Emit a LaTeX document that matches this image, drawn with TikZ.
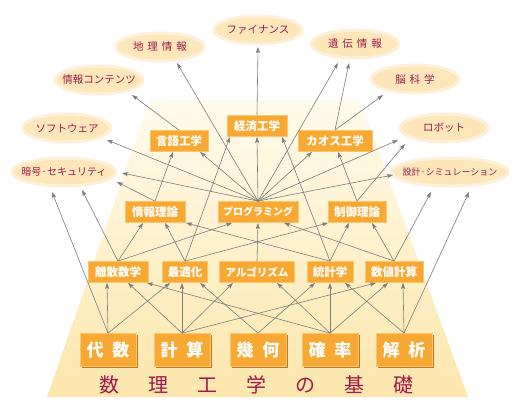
\documentclass[tikz,border=0pt]{standalone}
\usepackage{fontspec}
\setmainfont{Noto Sans CJK JP}
\usetikzlibrary{shapes.geometric,arrows.meta,backgrounds}
\definecolor{ellfill}{HTML}{FCE6BA}
\definecolor{ellhalo}{HTML}{FEF0D8}
\definecolor{elltext}{HTML}{9E1C4A}
\definecolor{boxfill}{HTML}{F8A933}
\definecolor{boxedge}{HTML}{FBC56B}
\definecolor{linecol}{HTML}{7C7C7C}
\definecolor{titlecol}{HTML}{A3174A}
\definecolor{trapTop}{HTML}{FFFBEC}
\definecolor{trapBot}{HTML}{FCE6AC}
\definecolor{bigshadow}{HTML}{B07A2C}
\tikzset{
 ell/.style={ellipse, fill=ellfill, draw=ellhalo, line width=3pt, inner xsep=-6pt, inner ysep=0pt,
   minimum width=88pt, minimum height=28pt, text=elltext, font=\fontsize{10.5}{12}\selectfont},
 sbox/.style={rectangle, fill=boxfill, draw=boxedge, line width=0.8pt, text=white,
   font=\fontsize{11.5}{13}\selectfont\bfseries, minimum height=21pt, inner xsep=3pt, inner ysep=0pt},
 bbox/.style={rectangle, fill=boxfill, draw=boxedge, line width=0.8pt, minimum width=56pt,
   minimum height=33pt, text=white, font=\fontsize{17}{19}\selectfont\bfseries,
   preaction={fill=bigshadow, transform canvas={shift={(1.8pt,-1.8pt)}}}},
 conn/.style={draw=linecol, line width=0.6pt, -{Stealth[length=6pt,width=4pt,inset=1.2pt]}},
 titletext/.style={text=titlecol, font=\fontsize{20}{22}\selectfont},
}
\begin{document}
\begin{tikzpicture}[x=1pt,y=-1pt]
\useasboundingbox (0,0) rectangle (516,408);
% ellipses
\node[ell] (e_cont) at (99,80) {情報コンテンツ};
\node[ell] (e_geo) at (160,47) {地\hspace{4pt}理\hspace{4pt}情\hspace{4pt}報};
\node[ell] (e_fin) at (258,30) {ファイナンス};
\node[ell] (e_gene) at (355,44) {遺\hspace{4pt}伝\hspace{4pt}情\hspace{4pt}報};
\node[ell] (e_brain) at (415,79) {脳\hspace{4pt}科\hspace{4pt}学};
\node[ell] (e_soft) at (67,128) {ソフトウェア};
\node[ell] (e_robot) at (444,128) {ロボット};
\node[ell, minimum width=104pt, font=\fontsize{10}{12}\selectfont] (e_crypt) at (64,172) {暗号·セキュリティ};
\node[ell, minimum width=108pt, font=\fontsize{9}{11}\selectfont] (e_design) at (450,172) {設計·シミュレーション};
% row 1
\node[sbox, minimum width=58pt] (b_lang) at (179,141) {言語工学};
\node[sbox, minimum width=60pt] (b_econ) at (257,126) {経済工学};
\node[sbox, minimum width=74pt] (b_chaos) at (335,141) {カオス工学};
% row 2
\node[sbox, minimum width=60pt] (b_info) at (155,212) {情報理論};
\node[sbox, minimum width=80pt, font=\fontsize{10}{12}\selectfont\bfseries] (b_prog) at (258,212) {プログラミング};
\node[sbox, minimum width=58pt] (b_ctrl) at (357,212) {制御理論};
% row 3
\node[sbox, minimum width=60pt] (b_disc) at (118,272) {離散数学};
\node[sbox, minimum width=45pt] (b_opt) at (185,272) {最適化};
\node[sbox, minimum width=75pt, font=\fontsize{10.5}{12}\selectfont\bfseries] (b_algo) at (257,272) {アルゴリズム};
\node[sbox, minimum width=46pt] (b_stat) at (330,272) {統計学};
\node[sbox, minimum width=58pt] (b_num) at (394,272) {数値計算};
% row 4
\node[bbox] (B_alg) at (108,350) {代\hspace{9pt}数};
\node[bbox] (B_comp) at (182,350) {計\hspace{9pt}算};
\node[bbox] (B_geom) at (258,350) {幾\hspace{9pt}何};
\node[bbox] (B_prob) at (330,350) {確\hspace{9pt}率};
\node[bbox] (B_anal) at (404,350) {解\hspace{9pt}析};
% title
\node[titletext] (title) at (256,385) {数\hspace{29pt}理\hspace{29pt}工\hspace{29pt}学\hspace{29pt}の\hspace{29pt}基\hspace{29pt}礎};
% background
\begin{scope}[on background layer]
\fill[white] (0,0) rectangle (516,408);
\shade[top color=trapTop, bottom color=trapBot] (150,100) -- (360,100) -- (468,397) -- (47,397) -- cycle;
\end{scope}
% row4 -> row3
\draw[conn] (B_alg.north) -- ([xshift=-12pt,yshift=-20pt]e_crypt.center);
\draw[conn] (B_alg.north) -- ([xshift=-11pt]b_disc.south);
\draw[conn] (B_alg.north) -- ([xshift=-15pt]b_opt.south);
\draw[conn] (B_comp.north) -- ([xshift=10pt]b_disc.south);
\draw[conn] (B_comp.north) -- ([xshift=-3pt]b_opt.south);
\draw[conn] (B_comp.north) -- ([xshift=-24pt]b_algo.south);
\draw[conn] (B_comp.north) -- ([xshift=-18pt]b_num.south);
\draw[conn] (B_geom.north) -- ([xshift=15pt]b_opt.south);
\draw[conn] (B_geom.north) -- ([xshift=-15pt]b_stat.south);
\draw[conn] (B_prob.north) -- ([xshift=29pt]b_disc.south);
\draw[conn] (B_prob.north) -- ([xshift=20pt]b_algo.south);
\draw[conn] (B_prob.north) -- (b_stat.south);
\draw[conn] (B_prob.north) -- ([xshift=-6pt]b_num.south);
\draw[conn] (B_anal.north) -- ([xshift=15pt]b_stat.south);
\draw[conn] (B_anal.north) -- ([xshift=9pt]b_num.south);
\draw[conn] (B_anal.north) -- ([xshift=19pt,yshift=-20pt]e_design.center);
% row3 -> up
\draw[conn] (b_disc.north) -- ([xshift=18pt,yshift=-18pt]e_crypt.center);
\draw[conn] (b_disc.north) -- ([xshift=-12pt]b_info.south);
\draw[conn] (b_disc.north) -- ([xshift=-26pt]b_prog.south);
\draw[conn] (b_opt.north) -- ([xshift=10pt]b_info.south);
\draw[conn] (b_opt.north) -- ([xshift=-27pt]b_econ.south);
\draw[conn] (b_opt.north) -- ([xshift=-29pt]b_ctrl.south);
\draw[conn] (b_algo.north) -- (b_prog.south);
\draw[conn] (b_stat.north) -- ([xshift=31pt]b_info.south);
\draw[conn] (b_stat.north) -- ([xshift=25pt]b_econ.south);
\draw[conn] (b_stat.north) -- ([xshift=-8pt]b_ctrl.south);
\draw[conn] (b_num.north) -- ([xshift=26pt]b_prog.south);
\draw[conn] (b_num.north) -- ([xshift=15pt]b_ctrl.south);
\draw[conn] (b_num.north) -- ([xshift=-19pt,yshift=-20pt]e_design.center);
% row2 -> up
\draw[conn] (b_info.north) -- ([xshift=-6pt]b_lang.south);
\draw[conn] (b_info.north) -- ([xshift=53pt,yshift=-10pt]e_crypt.center);
\draw[conn] (b_prog.north) -- ([xshift=21pt]b_lang.south);
\draw[conn] (b_prog.north) -- (b_econ.south);
\draw[conn] (b_prog.north) -- ([xshift=-23pt]b_chaos.south);
\draw[conn] (b_prog.north) -- ([xshift=58pt,yshift=-1pt]e_crypt.center);
\draw[conn] (b_prog.north) -- ([xshift=40pt,yshift=-12pt]e_soft.center);
\draw[conn] (b_prog.north) -- ([xshift=17pt,yshift=-16pt]e_geo.center);
\draw[conn] (b_prog.north) -- ([xshift=-17pt,yshift=-19pt]e_gene.center);
\draw[conn] (b_prog.north) -- ([xshift=-46pt,yshift=-12pt]e_robot.center);
\draw[conn] (b_prog.north) -- ([xshift=-57pt,yshift=-3pt]e_design.center);
\draw[conn] (b_ctrl.north) -- ([xshift=3pt]b_chaos.south);
\draw[conn] (b_ctrl.north) -- ([xshift=-39pt,yshift=-16pt]e_robot.center);
% row1 -> up
\draw[conn] (b_lang.north) -- ([xshift=33pt,yshift=-15pt]e_cont.center);
\draw[conn] (b_econ.north) -- ([yshift=-17pt]e_fin.center);
\draw[conn] (b_chaos.north) -- ([xshift=-6pt,yshift=-19pt]e_gene.center);
\draw[conn] (b_chaos.north) -- ([xshift=-32pt,yshift=-16pt]e_brain.center);
\end{tikzpicture}
\end{document}
